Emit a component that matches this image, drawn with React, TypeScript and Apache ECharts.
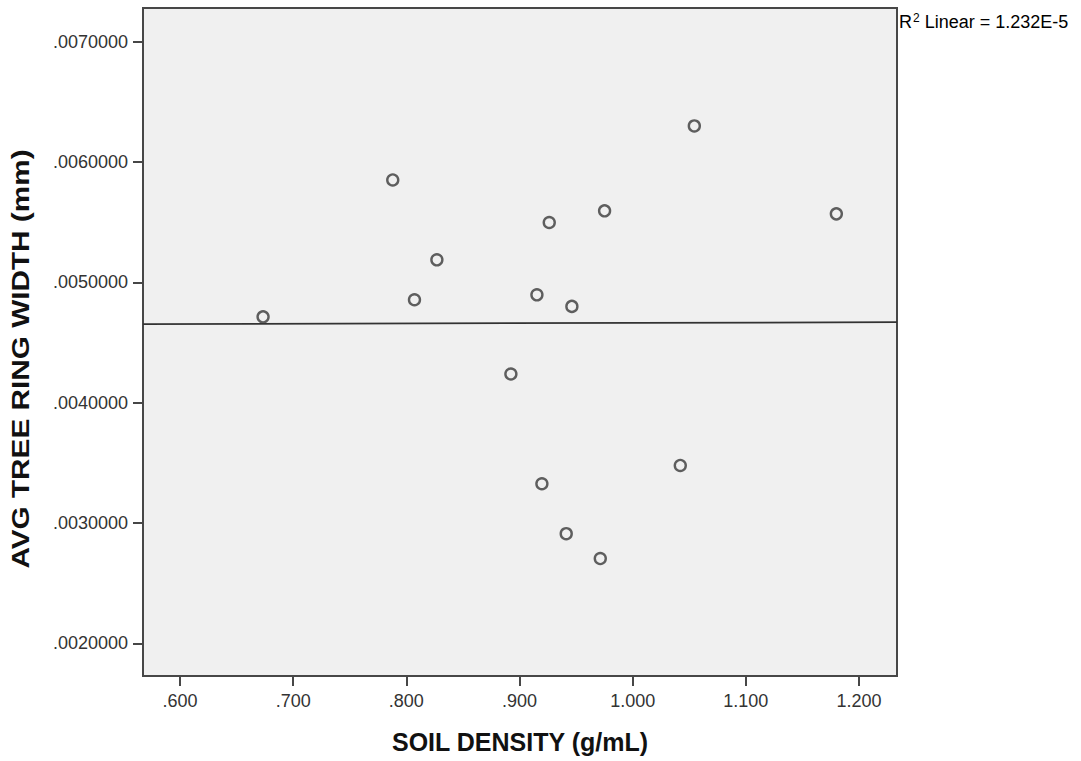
import React, { useEffect, useRef } from "react";
import * as echarts from "echarts";

// Soil density (g/mL) per plot
const soilDensity = [
  0.6734, 0.788, 0.8072, 0.827, 0.8924, 0.9154, 0.9198, 0.9263, 0.9413,
  0.9463, 0.9714, 0.9752, 1.0421, 1.0545, 1.18,
];
// Average tree ring width (mm) for the same plots
const ringWidth = [
  0.004713, 0.005851, 0.004855, 0.005187, 0.004238, 0.004896, 0.003326,
  0.005497, 0.002911, 0.0048, 0.002704, 0.005594, 0.003478, 0.0063, 0.005569,
];

const xTicks = [0.6, 0.7, 0.8, 0.9, 1.0, 1.1, 1.2];
const yTicks = [0.002, 0.003, 0.004, 0.005, 0.006, 0.007];
const xRange = [0.5673, 1.2336];
const yRange = [0.001728, 0.00728];
const r2Label = "1.232E-5";

const FONT = "'Liberation Sans', Arial, sans-serif";

function linearFit(xs: number[], ys: number[]) {
  const n = xs.length;
  const mx = xs.reduce((a, b) => a + b, 0) / n;
  const my = ys.reduce((a, b) => a + b, 0) / n;
  let sxy = 0;
  let sxx = 0;
  for (let i = 0; i < n; i++) {
    sxy += (xs[i] - mx) * (ys[i] - my);
    sxx += (xs[i] - mx) * (xs[i] - mx);
  }
  const slope = sxy / sxx;
  return { slope, intercept: my - slope * mx };
}

export default function App() {
  const ref = useRef<HTMLDivElement>(null);

  useEffect(() => {
    if (!ref.current) return;
    const chart = echarts.init(ref.current, undefined, { renderer: "svg" });
    const points = soilDensity.map((x, i) => [x, ringWidth[i]]);
    const fit = linearFit(soilDensity, ringWidth);
    const fitLine = xRange.map((x) => [x, fit.intercept + fit.slope * x]);

    chart.setOption({
      animation: false,
      backgroundColor: "#ffffff",
      grid: {
        left: 143,
        top: 8,
        right: 184,
        bottom: 85,
        show: true,
        backgroundColor: "#f0f0f0",
        borderColor: "#474747",
        borderWidth: 2,
      },
      xAxis: {
        type: "value",
        min: xRange[0],
        max: xRange[1],
        axisLine: { show: true, onZero: false, lineStyle: { color: "#474747", width: 2 } },
        axisTick: {
          show: true,
          customValues: xTicks,
          length: 10,
          lineStyle: { color: "#474747", width: 2 },
        },
        axisLabel: {
          customValues: xTicks,
          margin: 16,
          fontSize: 18,
          fontFamily: FONT,
          color: "#333333",
          formatter: (v: number) => v.toFixed(3).replace(/^0/, ""),
        },
        splitLine: { show: false },
      },
      yAxis: {
        type: "value",
        min: yRange[0],
        max: yRange[1],
        axisLine: { show: true, onZero: false, lineStyle: { color: "#474747", width: 2 } },
        axisTick: {
          show: true,
          customValues: yTicks,
          length: 10,
          lineStyle: { color: "#474747", width: 2 },
        },
        axisLabel: {
          customValues: yTicks,
          margin: 15,
          fontSize: 18,
          fontFamily: FONT,
          color: "#333333",
          formatter: (v: number) => v.toFixed(7).replace(/^0/, ""),
        },
        splitLine: { show: false },
      },
      graphic: [
        {
          type: "text",
          x: 520,
          y: 742,
          style: {
            text: "SOIL DENSITY (g/mL)",
            font: `bold 25px ${FONT}`,
            fill: "#111111",
            align: "center",
            verticalAlign: "middle",
          },
        },
        {
          type: "text",
          x: 21,
          y: 359,
          rotation: Math.PI / 2,
          scaleX: 1.24,
          style: {
            text: "AVG TREE RING WIDTH (mm)",
            font: `bold 24px ${FONT}`,
            fill: "#111111",
            align: "center",
            verticalAlign: "middle",
          },
        },
        {
          type: "text",
          x: 899,
          y: 22,
          style: {
            text: `{b|R}{s|2}{b| Linear = ${r2Label}}`,
            align: "left",
            verticalAlign: "middle",
            rich: {
              b: { fontSize: 18, fontFamily: FONT, color: "#222222" },
              s: {
                fontSize: 12,
                fontFamily: FONT,
                color: "#222222",
                verticalAlign: "top",
                padding: [0, 0, 8, 1],
              },
            },
          },
        },
      ],
      series: [
        {
          type: "line",
          data: fitLine,
          symbol: "none",
          silent: true,
          lineStyle: { color: "#333333", width: 1.8 },
          z: 2,
        },
        {
          type: "scatter",
          data: points,
          symbol: "circle",
          symbolSize: 11,
          itemStyle: { color: "#f0f0f0", borderColor: "#3a3a3a", borderWidth: 2.4 },
          z: 3,
        },
      ],
    });

    return () => chart.dispose();
  }, []);

  return (
    <div
      ref={ref}
      style={{ position: "absolute", left: 0, top: 0, width: 1081, height: 761 }}
    />
  );
}
